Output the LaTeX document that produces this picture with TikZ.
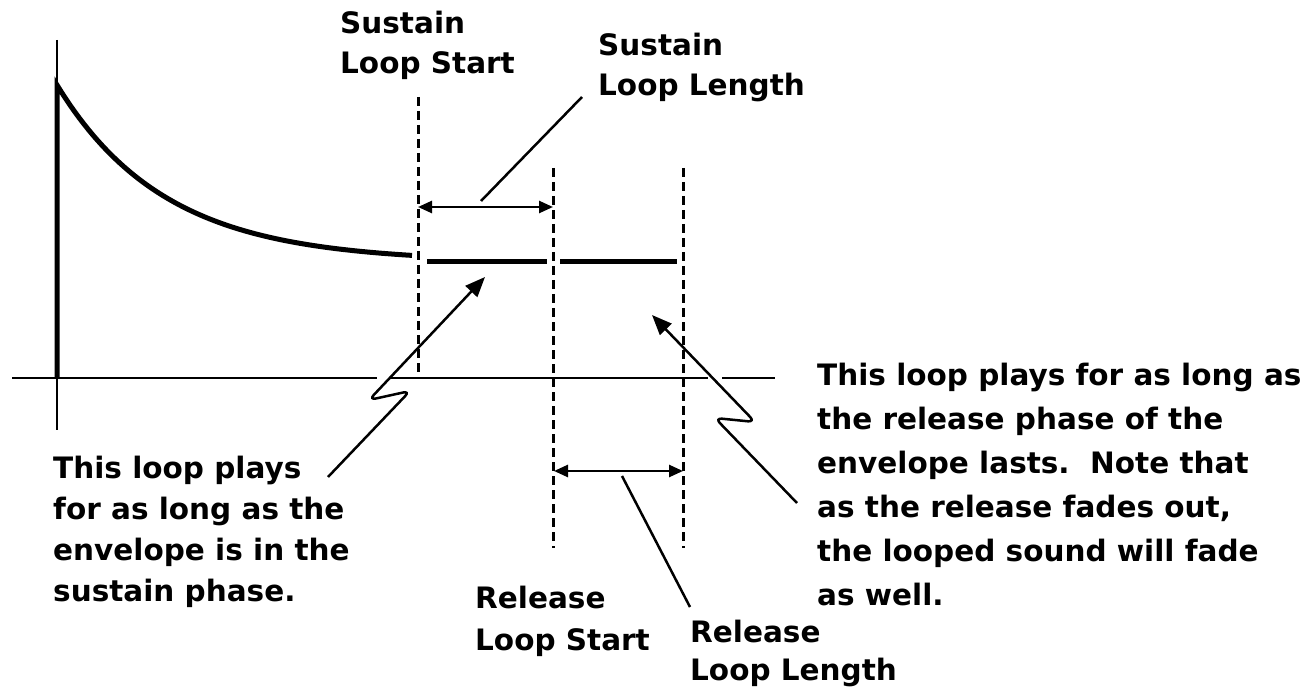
\documentclass[tikz,border=0pt]{standalone}
\usepackage{fontspec}
\setmainfont{DejaVu Sans}
\usetikzlibrary{arrows.meta}
\usetikzlibrary{calc}

\tikzset{
  lbl/.style={anchor=north west, inner sep=0pt, align=left,
    font=\bfseries\fontsize{29.5}{#1}\selectfont},
  lbl/.default=40,
  axisline/.style={line width=2.5pt},
  env/.style={line width=5pt},
  loopmark/.style={line width=3pt, dash pattern=on 9pt off 5pt},
  loopspan/.style={line width=2.5pt,
    {Triangle[length=14pt,width=12pt]}-{Triangle[length=14pt,width=12pt]}},
  pointer/.style={line width=2.5pt},
  zig/.style={line width=2.5pt, rounded corners=7pt,
    -{Triangle[length=20pt,width=16pt]}}
}

\begin{document}
\begin{tikzpicture}[x=1pt, y=-1pt]
  \useasboundingbox (0,0) rectangle (1310,687);

  % axes
  \coordinate (ytop) at (57,40);
  \coordinate (ybot) at (57,430);
  \coordinate (o) at (57,378);
  \coordinate (xl) at (12,378);
  \coordinate (xr) at (775,378);
  \draw[axisline] (ytop) -- (ybot);
  \draw[axisline] (xl) -- (377,378) (390,378) -- (708,378) (722,378) -- (xr);

  % envelope
  \draw[env] (o) -- (57,85)
    -- plot[domain=57:412, samples=80] (\x, {262-177*exp(-(\x-57)/108)});
  \draw[env] (427,262) -- (547,262);
  \draw[env] (560,262) -- (677,262);

  % loop points
  \coordinate (sls) at (418,97);
  \coordinate (sls') at (418,376);
  \coordinate (sle) at (553,168);
  \coordinate (sle') at (553,548);
  \coordinate (rle) at (683,168);
  \coordinate (rle') at (683,548);
  \draw[loopmark] (sls) -- (sls');
  \draw[loopmark] (sle) -- (sle');
  \draw[loopmark] (rle) -- (rle');

  \coordinate (sa) at (418,207);
  \coordinate (sb) at (553,207);
  \coordinate (ra) at (554,471);
  \coordinate (rb) at (683,471);
  \draw[loopspan] (sa) -- (sb);
  \draw[loopspan] (ra) -- (rb);

  % labels
  \node[lbl] (slstart) at (340,11) {Sustain\\Loop Start};
  \node[lbl] (sllen) at (598,33) {Sustain\\Loop Length};
  \node[lbl=41] (susnote) at (53,456)
    {This loop plays\\for as long as the\\envelope is in the\\sustain phase.};
  \node[lbl=42] (rlstart) at (475,586) {Release\\Loop Start};
  \node[lbl=38] (rllen) at (690,620) {Release\\Loop Length};
  \node[lbl=44] (relnote) at (817,363)
    {This loop plays for as long as\\the release phase of the\\envelope lasts.\ \ Note that\\as the release fades out,\\the looped sound will fade\\as well.};

  % pointers
  \coordinate (slp) at (481,201);
  \coordinate (slq) at (582,97);
  \coordinate (rlp) at (622,476);
  \coordinate (rlq) at (690,607);
  \draw[pointer] (slp) -- (slq);
  \draw[pointer] (rlp) -- (rlq);

  \coordinate (suse) at (328,477);
  \coordinate (sust) at (485,277);
  \coordinate (rele) at (797,503);
  \coordinate (relt) at (652,315);
  \draw[zig] (suse) -- (410,391) -- (369,400) -- (sust);
  \draw[zig] (rele) -- (715,418) -- (755,422) -- (relt);

\end{tikzpicture}
\end{document}
